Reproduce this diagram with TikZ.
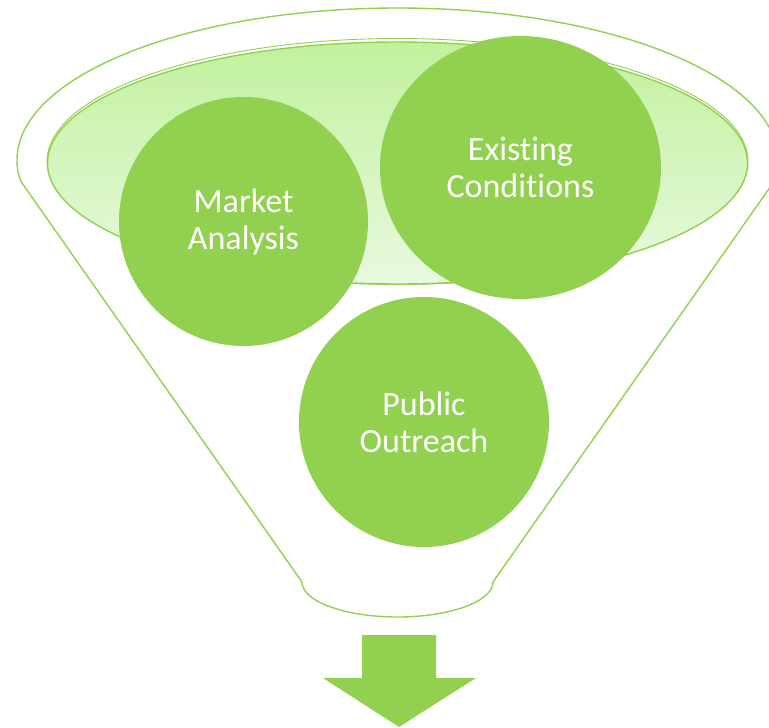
\documentclass[tikz,border=0pt]{standalone}
\usepackage{fontspec}
\setmainfont{Carlito}[RawFeature={-liga,-clig}]
\usetikzlibrary{shapes.geometric}
\begin{document}
\begin{tikzpicture}[x=1pt,y=1pt,
  leaf/.style={fill=leafgreen,draw=none,text=white,align=center,
    font=\fontsize{34}{37}\selectfont,inner sep=0pt},
  rim/.style={draw=leafgreen,line width=1.4pt},
  thinrim/.style={draw=leafgreen,line width=0.9pt}]
\definecolor{leafgreen}{RGB}{146,208,80}
\definecolor{toplight}{RGB}{194,241,157}
\definecolor{bottomlight}{RGB}{232,249,224}
\useasboundingbox (0,0) rectangle (769,-728);
\begin{scope}
\clip (0,0) rectangle (769,-728);
% funnel outline
\coordinate (lt) at (22,-183);
\coordinate (rt) at (773,-183);
\coordinate (lb) at (302,-582);
\coordinate (rb) at (493,-582);
\draw[rim,line join=round] (lb) -- (lt)
  .. controls (18,-176) and (17,-168) .. (17,-160)
  arc[start angle=180,end angle=0,x radius=380.5,y radius=152]
  .. controls (778,-168) and (777,-176) .. (rt)
  -- (rb)
  arc[start angle=0,end angle=-180,x radius=95.5,y radius=35];
% mouth of the funnel
\draw[thinrim] (397.5,-161.5) ellipse[x radius=350.5,y radius=123];
\path[rim,top color=toplight,bottom color=bottomlight]
  (397.5,-163) ellipse[x radius=350,y radius=121];
\end{scope}
% items
\node[leaf,circle,minimum size=249pt] (market) at (243.5,-221.5) {Market\\Analysis};
\node[leaf,ellipse,minimum width=281pt,minimum height=263pt] (existing) at (520.5,-167.5) {Existing\\Conditions};
\node[leaf,circle,minimum size=250pt] (public) at (424,-422) {Public\\Outreach};
% output arrow
\coordinate (tip) at (399,-727);
\fill[leafgreen] (362,-635) -- (436,-635) -- (436,-678) -- (476,-678)
  -- (tip) -- (323,-678) -- (362,-678) -- cycle;
\end{tikzpicture}
\end{document}
